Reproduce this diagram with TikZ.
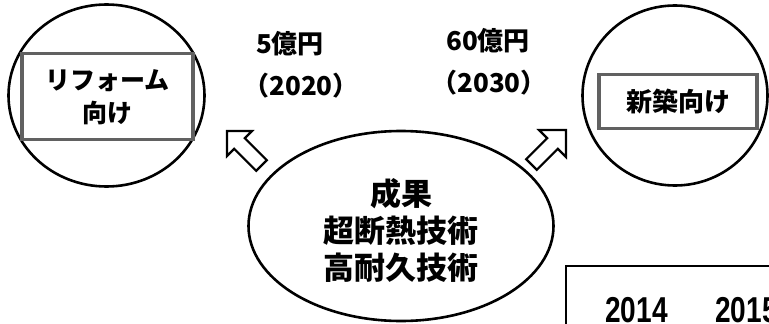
\documentclass[tikz,border=0pt]{standalone}
\usepackage{fontspec}
\newfontfamily\jp{Noto Sans CJK JP}
\newfontfamily\lat{Liberation Sans}
\usetikzlibrary{shapes.geometric}
\begin{document}
\begin{tikzpicture}[x=1pt,y=-1pt,
  ring/.style={draw, line width=2.6pt, ellipse, inner sep=0pt},
  tag/.style={draw=black!62, line width=3.5pt, rectangle, inner sep=0pt},
  jpt/.style={font=\jp\bfseries\fontsize{#1}{33}\selectfont, align=center, inner sep=0pt},
  jpt/.default=26,
  blockarrow/.style={draw, fill=white, line width=2.2pt, line join=miter},
  year/.style={font=\lat\bfseries\fontsize{36}{36}\selectfont, anchor=base west, inner sep=0pt}]
\useasboundingbox (0,0) rectangle (769,324);
\fill[white] (0,0) rectangle (769,324);
% left circle
\node[ring, minimum width=196pt, minimum height=182pt] (lc) at (106.5,95.5) {};
\node[tag, minimum width=171pt, minimum height=86pt] (lr) at (107.5,96.5) {};
\node[jpt=25] (lt) at (107.5,97) {リフォーム\\向け};
% right circle
\node[ring, minimum width=185pt, minimum height=180pt] (rc) at (675,95.5) {};
\node[tag, minimum width=158pt, minimum height=54pt] (rr) at (678,101.5) {};
\node[jpt=26] (rt) at (678,102) {新築向け};
% central ellipse
\node[ring, minimum width=305pt, minimum height=190pt] (core) at (401,226) {};
\node[font=\jp\bfseries\fontsize{31}{37}\selectfont, align=center, inner sep=0pt] (ct) at (401,230) {成果\\超断熱技術\\高耐久技術};
% labels
\node[jpt=26] (l1) at (290,44) {5億円};
\node[jpt=26] (l2) at (301,86) {（2020）};
\node[jpt=26] (l3) at (488,41) {60億円};
\node[jpt=26] (l4) at (489,83) {（2030）};
% block arrows
\draw[blockarrow] (227,131) -- (252,131) -- (244.8,138.2) -- (266.8,160.2) -- (256.2,170.8) -- (234.2,148.8) -- (227,156) -- cycle;
\draw[blockarrow] (566,130) -- (539,130) -- (547.2,138.2) -- (526.2,159.2) -- (536.8,169.8) -- (557.8,148.8) -- (566,157) -- cycle;
% bottom right table fragment
\draw[line width=1.8pt] (566,324) -- (566,266) -- (769,266);
\node[year] (y1) at (605,322) {\scalebox{0.78}[1]{2014}};
\node[year] (y2) at (715,322) {\scalebox{0.78}[1]{2015}};
\end{tikzpicture}
\end{document}
